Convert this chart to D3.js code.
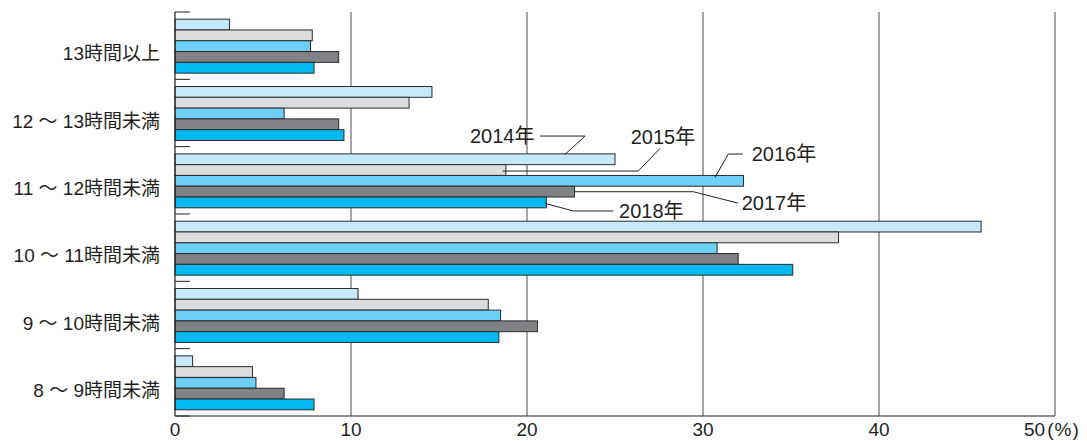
<!DOCTYPE html>
<html><head><meta charset="utf-8">
<script src="https://cdn.jsdelivr.net/npm/d3@7"></script>
<style>
html,body{margin:0;padding:0;background:#fff;}
svg text{font-family:"Liberation Sans","Noto Sans CJK JP",sans-serif;fill:#231f20;}
</style></head>
<body><svg id="c" width="1087" height="441"></svg>
<script>
const categories = ["13時間以上","12～13時間未満","11～12時間未満","10～11時間未満","9～10時間未満","8～9時間未満"];
const categoryLabels = ["13時間以上","12 ～ 13時間未満","11 ～ 12時間未満","10 ～ 11時間未満","9 ～ 10時間未満","8 ～ 9時間未満"];
const years = ["2014","2015","2016","2017","2018"];
const v2014 = [3.1, 14.6, 25.0, 45.8, 10.4, 1.0];
const v2015 = [7.8, 13.3, 18.8, 37.7, 17.8, 4.4];
const v2016 = [7.7, 6.2, 32.3, 30.8, 18.5, 4.6];
const v2017 = [9.3, 9.3, 22.7, 32.0, 20.6, 6.2];
const v2018 = [7.9, 9.6, 21.1, 35.1, 18.4, 7.9];
const xTicks = [0,10,20,30,40,50];
const unitLabel = "(%)";
const colors = ["#c6e9f8","#dcdddf","#6dcff6","#808285","#00b9f1"];

const series = [v2014,v2015,v2016,v2017,v2018];
const svg = d3.select("#c");
const x = d3.scaleLinear().domain([0,50]).range([175,1055]);
const y = d3.scaleBand().domain(categories).range([12,416]);
const yi = d3.scaleBand().domain(years).range([0,y.bandwidth()]).paddingOuter(0.62).paddingInner(0);

// gridlines
svg.append("g").selectAll("line").data(xTicks.slice(1)).join("line")
  .attr("x1",d=>x(d)).attr("x2",d=>x(d)).attr("y1",12).attr("y2",416)
  .attr("stroke","#4d4d4f").attr("stroke-width",1);

// bars
const rows = [];
categories.forEach((c,ci)=>years.forEach((yr,yi2)=>rows.push({c,yr,v:series[yi2][ci],col:colors[yi2]})));
svg.append("g").selectAll("rect").data(rows).join("rect")
  .attr("x",x(0)).attr("y",d=>y(d.c)+yi(d.yr)+0.5)
  .attr("width",d=>x(d.v)-x(0)).attr("height",yi.bandwidth())
  .attr("fill",d=>d.col).attr("stroke","#2b2b2b").attr("stroke-width",1);

// category ticks
const bounds = categories.map(c=>y(c)).concat([y.range()[1]]);
svg.append("g").selectAll("line").data(bounds).join("line")
  .attr("x1",x(0)).attr("x2",x(0)+15).attr("y1",d=>d).attr("y2",d=>d)
  .attr("stroke","#231f20").attr("stroke-width",1);

// axes lines
svg.append("line").attr("x1",x(0)).attr("x2",x(0)).attr("y1",12).attr("y2",416).attr("stroke","#231f20").attr("stroke-width",1.2);
svg.append("line").attr("x1",x(0)).attr("x2",x(50)).attr("y1",416).attr("y2",416).attr("stroke","#231f20").attr("stroke-width",1);

// x tick labels
const last = xTicks[xTicks.length-1];
svg.append("g").selectAll("text").data(xTicks.slice(0,-1)).join("text")
  .attr("x",d=>x(d)).attr("y",436).attr("text-anchor","middle").attr("font-size",19)
  .text(d=>d);
const lt = svg.append("text").attr("x",x(last)-31).attr("y",436).attr("font-size",19);
lt.append("tspan").text(last);
lt.append("tspan").attr("dx",2).text(unitLabel[0]);
lt.append("tspan").attr("dx",1).text(unitLabel[1]);
lt.append("tspan").attr("dx",1).text(unitLabel[2]);

// category labels
svg.append("g").selectAll("text").data(categories).join("text")
  .attr("x",160).attr("y",(d)=>y(d)+y.bandwidth()/2+8).attr("dominant-baseline","central")
  .attr("text-anchor","end").attr("font-size",19)
  .text((d,i)=>categoryLabels[i]);

// annotations for 11～12 group
const annCat = categories[2];
const annotations = [
  {yr:"2014", lx:16.76, ldy:-22.7, pts:[[20.74,-22.7],[23.30,-22.7],[22.16,-4.4]]},
  {yr:"2015", lx:25.89, ldy:-32.8, pts:[[27.56,-21.2],[26.32,1.5],[18.62,1.5]]},
  {yr:"2016", lx:32.77, ldy:-26.3, pts:[[32.26,-26.3],[31.44,-26.3],[30.68,-3]]},
  {yr:"2017", lx:32.2, ldy:12.2, pts:[[31.99,12],[29.45,0.6],[22.73,0.6]]},
  {yr:"2018", lx:25.23, ldy:9.1, pts:[[24.9,9.1],[22.63,9.1],[21.02,1.4]]}
];
const bc = yr => y(annCat)+yi(yr)+yi.bandwidth()/2;
const line = d3.line();
annotations.forEach(a=>{
  svg.append("path").attr("d",line(a.pts.map(p=>[x(p[0]),bc(a.yr)+p[1]])))
    .attr("fill","none").attr("stroke","#231f20").attr("stroke-width",1);
  svg.append("text").attr("x",x(a.lx)).attr("y",bc(a.yr)+a.ldy).attr("dominant-baseline","central")
    .attr("font-size",20).text(a.yr+"年");
});
</script></body></html>
